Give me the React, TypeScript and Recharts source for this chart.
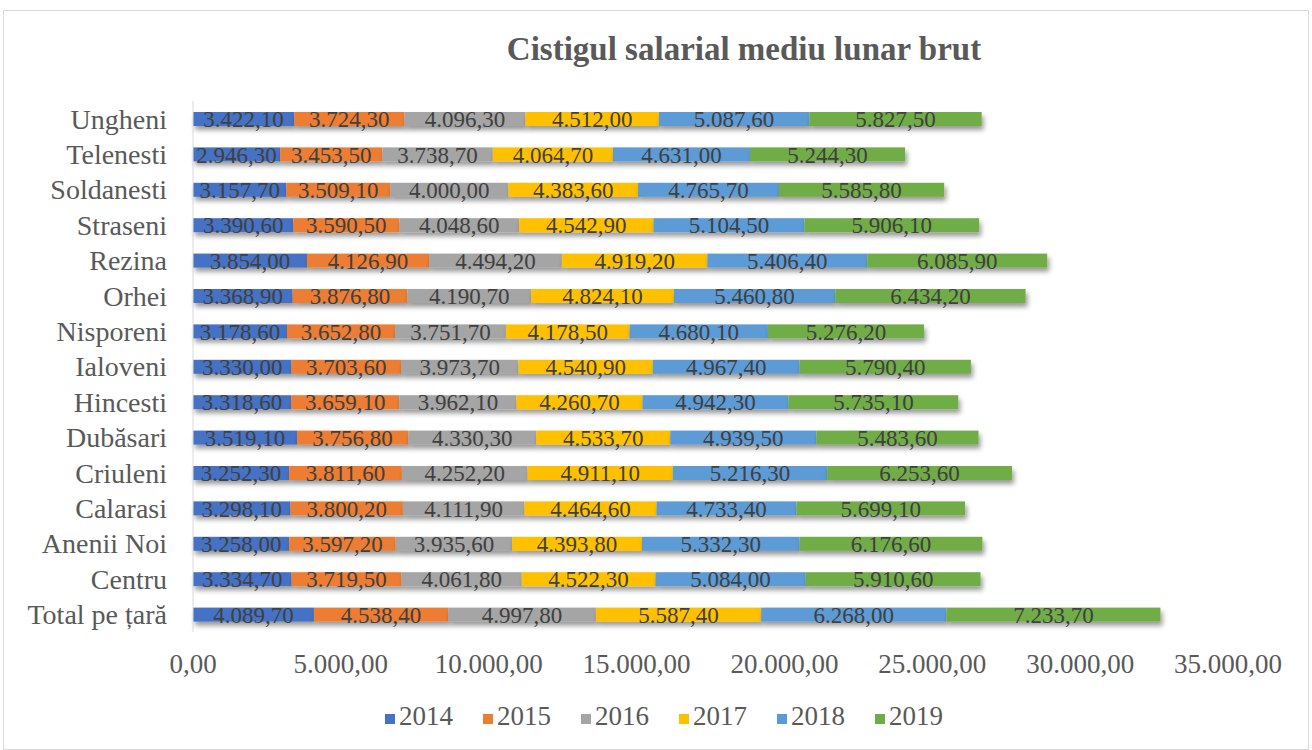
import React from 'react';
import { BarChart, Bar, XAxis, YAxis, Legend, LabelList } from 'recharts';

const categories = ['Ungheni', 'Telenesti', 'Soldanesti', 'Straseni', 'Rezina', 'Orhei', 'Nisporeni', 'Ialoveni', 'Hincesti', 'Dubăsari', 'Criuleni', 'Calarasi', 'Anenii Noi', 'Centru', 'Total pe țară'];
const years = ['2014', '2015', '2016', '2017', '2018', '2019'];
const v2014 = [3422.1, 2946.3, 3157.7, 3390.6, 3854.0, 3368.9, 3178.6, 3330.0, 3318.6, 3519.1, 3252.3, 3298.1, 3258.0, 3334.7, 4089.7];
const v2015 = [3724.3, 3453.5, 3509.1, 3590.5, 4126.9, 3876.8, 3652.8, 3703.6, 3659.1, 3756.8, 3811.6, 3800.2, 3597.2, 3719.5, 4538.4];
const v2016 = [4096.3, 3738.7, 4000.0, 4048.6, 4494.2, 4190.7, 3751.7, 3973.7, 3962.1, 4330.3, 4252.2, 4111.9, 3935.6, 4061.8, 4997.8];
const v2017 = [4512.0, 4064.7, 4383.6, 4542.9, 4919.2, 4824.1, 4178.5, 4540.9, 4260.7, 4533.7, 4911.1, 4464.6, 4393.8, 4522.3, 5587.4];
const v2018 = [5087.6, 4631.0, 4765.7, 5104.5, 5406.4, 5460.8, 4680.1, 4967.4, 4942.3, 4939.5, 5216.3, 4733.4, 5332.3, 5084.0, 6268.0];
const v2019 = [5827.5, 5244.3, 5585.8, 5906.1, 6085.9, 6434.2, 5276.2, 5790.4, 5735.1, 5483.6, 6253.6, 5699.1, 6176.6, 5910.6, 7233.7];
const xTicks = [0, 5000, 10000, 15000, 20000, 25000, 30000, 35000];
const colors = ['#4472C4', '#ED7D31', '#A5A5A5', '#FFC000', '#5B9BD5', '#70AD47'];

const series = [v2014, v2015, v2016, v2017, v2018, v2019];
const data = categories.map((name, i) => {
  const row: Record<string, any> = { name };
  years.forEach((y, k) => { row[y] = series[k][i]; });
  return row;
});

const fmt = (v: any) => {
  const n = Number(v);
  const [intPart, dec] = n.toFixed(2).split('.');
  const withDots = intPart.replace(/\B(?=(\d{3})+(?!\d))/g, '.');
  return `${withDots},${dec}`;
};

const FONT = '"Liberation Serif", "Times New Roman", serif';

const ShadowRect = (props: any) => {
  const { x, y, width, height, fill } = props;
  if (width == null || height == null) return null;
  return <rect x={x} y={y} width={width} height={height} fill={fill} filter="url(#barShadow)" />;
};

export default function App() {
  return (
    <div style={{ position: 'absolute', left: 3, top: 10, width: 1304, height: 738, border: '1px solid #d9d9d9', background: '#fff' }}>
      <svg width="0" height="0" style={{ position: 'absolute' }}>
        <defs>
          <filter id="barShadow" x="-5%" y="-40%" width="112%" height="220%">
            <feDropShadow dx="2" dy="4" stdDeviation="2.5" floodColor="#000" floodOpacity="0.4" />
          </filter>
        </defs>
      </svg>
      <div style={{ position: 'absolute', left: 0, width: 1304, top: 20, textAlign: 'center', paddingLeft: 176, boxSizing: 'border-box', fontFamily: FONT, fontWeight: 'bold', fontSize: 33, color: '#595959' }}>
        Cistigul salarial mediu lunar brut
      </div>
      <BarChart
        width={1304}
        height={738}
        data={data}
        layout="vertical"
        margin={{ top: 90, right: 80, left: 0, bottom: 56 }}
        barSize={14}
      >
        <XAxis
          type="number"
          domain={[0, 35000]}
          ticks={xTicks}
          tickFormatter={fmt}
          axisLine={false}
          tickLine={false}
          tickMargin={16}
          height={30}
          tick={{ fill: '#595959', fontSize: 27, fontFamily: FONT }}
          interval={0}
        />
        <YAxis
          type="category"
          dataKey="name"
          width={189}
          axisLine={{ stroke: '#d9d9d9' }}
          tickLine={false}
          tickMargin={20}
          tick={{ fill: '#595959', fontSize: 28, fontFamily: FONT }}
          interval={0}
        />
        <Legend
          verticalAlign="bottom"
          iconType="square"
          iconSize={10}
          wrapperStyle={{ top: 690, left: 0, width: 1350, fontFamily: FONT, fontSize: 27 }}
          formatter={(value: any) => <span style={{ color: '#595959', paddingRight: 20 }}>{value}</span>}
        />
        {years.map((y, k) => (
          <Bar key={y} dataKey={y} stackId="a" fill={colors[k]} isAnimationActive={false} shape={ShadowRect}>
            <LabelList dataKey={y} position="center" formatter={fmt} fill="#404040" fontSize={23} fontFamily={FONT} />
          </Bar>
        ))}
      </BarChart>
    </div>
  );
}
